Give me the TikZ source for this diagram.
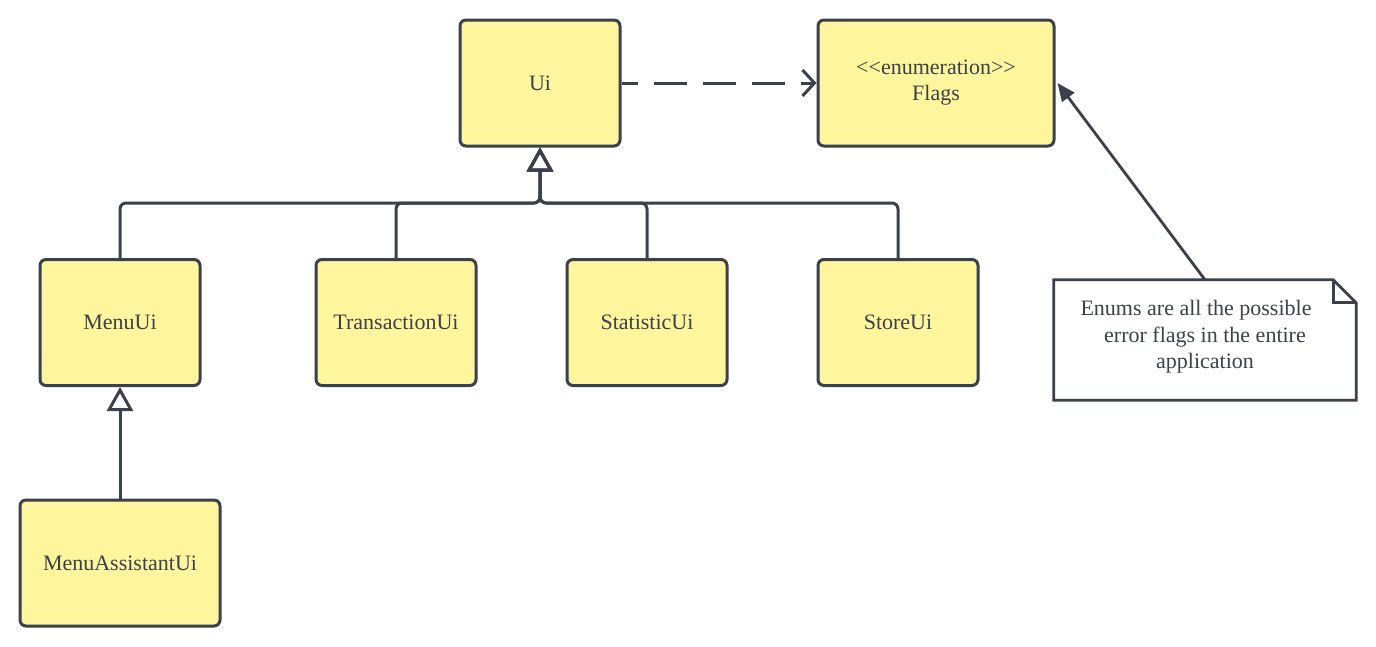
\documentclass[tikz,border=0pt]{standalone}
\usepackage{fontspec}
\setmainfont{Liberation Serif}
\usetikzlibrary{arrows.meta,calc}
\definecolor{ink}{HTML}{3A414A}
\definecolor{cls}{HTML}{FFF59D}
\tikzset{
  classbox/.style={draw=ink, fill=cls, line width=3pt, rounded corners=6pt, minimum width=160pt, minimum height=126pt, inner sep=0pt, text=ink, font=\fontsize{22}{26}\selectfont, align=center},
  inherit/.style={draw=ink, line width=3pt, rounded corners=6pt, -{Triangle[open, length=24pt, width=26pt, line width=3pt]}},
  depend/.style={draw=ink, line width=3pt, dash pattern=on 33pt off 16pt, dash phase=17pt, -{Straight Barb[length=12pt, width=26pt, line width=3pt]}},
  noteline/.style={draw=ink, line width=2.8pt, -{Triangle[length=18pt, width=15pt]}},
}
\begin{document}
\begin{tikzpicture}[x=1pt, y=-1pt]
\useasboundingbox (0,0) rectangle (1376,646);
\node[classbox] (ui) at (540,83) {Ui};
\node[classbox, minimum width=236pt] (flags) at (936,83) {{<}{<}enumeration{>}{>}\\Flags};
\node[classbox] (menu) at (120,322.5) {MenuUi};
\node[classbox] (trans) at (396,322.5) {TransactionUi};
\node[classbox] (stat) at (647,322.5) {StatisticUi};
\node[classbox] (store) at (898,322.5) {StoreUi};
\node[classbox, minimum width=200pt] (assist) at (120,563) {MenuAssistantUi};
\coordinate (bus) at (540,203);
\foreach \c in {menu,trans,stat,store}{
  \draw[inherit] (\c.north) |- (bus) -- (ui.south);
}
\draw[inherit, rounded corners=0pt] (assist.north) -- (menu.south);
\draw[depend] (ui.east) -- (flags.west);
% note
\node[minimum width=302pt, minimum height=120pt, inner sep=0pt] (note) at (1205,340) {};
\draw[ink, line width=2.8pt, line join=miter] (note.south west) -- (note.north west) -- ($(note.north east)+(-23,0)$) -- ($(note.north east)+(0,23)$) -- (note.south east) -- cycle;
\draw[ink, line width=2.8pt, line join=miter] ($(note.north east)+(-23,0)$) -- ($(note.north east)+(-23,23)$) -- ($(note.north east)+(0,23)$);
\node[text=ink, font=\fontsize{22}{26.5}\selectfont, align=center] (notetext) at (1205,337) {\mbox{Enums are all the possible\hspace{18pt}}\\error flags in the entire\\application};
\draw[noteline] (note.north) -- ($(flags.east)+(2,0)$);
\end{tikzpicture}
\end{document}
